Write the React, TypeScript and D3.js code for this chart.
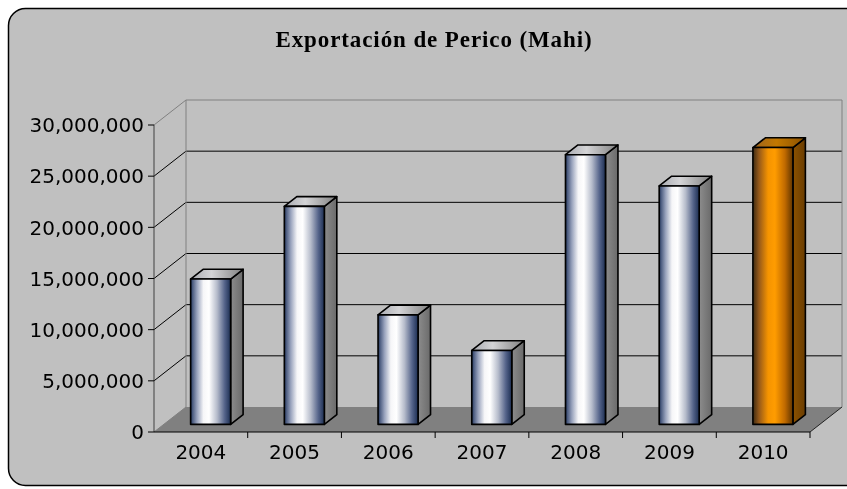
import React from 'react';
import * as d3 from 'd3';

const years = ['2004', '2005', '2006', '2007', '2008', '2009', '2010'];
const exports = [14200000, 21300000, 10700000, 7220000, 26350000, 23300000, 27050000];
const yTicks = [0, 5000000, 10000000, 15000000, 20000000, 25000000, 30000000];
const title = 'Exportación de Perico (Mahi)';

const W = 847;
const H = 489;
// plot box (front plane) and 3D depth offset
const left = 154;
const right = 810;
const bottom = 432;
const top = 125;
const depth = { dx: 32, dy: -25 };
const barFront = 0.305;
const barBack = 0.695;

export default function App() {
  const x = d3
    .scaleBand<string>()
    .domain(years)
    .range([left, right])
    .paddingInner(0.573)
    .paddingOuter(0.2865);

  const y = d3.scaleLinear().domain([0, 30000000]).range([bottom, top]);
  const fmt = d3.format(',');

  const f0 = { dx: depth.dx * barFront, dy: depth.dy * barFront };
  const dd = { dx: depth.dx * (barBack - barFront), dy: depth.dy * (barBack - barFront) };
  const bw = x.bandwidth();
  const step = x.step();

  const pts = (p: number[][]) => p.map(q => q.join(',')).join(' ');

  return (
    <svg
      width={W}
      height={H}
      style={{ position: 'fixed', left: 0, top: 0 }}
      fontFamily="'DejaVu Sans', Verdana, sans-serif"
    >
      <defs>
        <linearGradient id="silverFront" x1="0" x2="1" y1="0" y2="0">
          <stop offset="0%" stopColor="#1c2e52" />
          <stop offset="5%" stopColor="#4c5c80" />
          <stop offset="16%" stopColor="#98a2bc" />
          <stop offset="32%" stopColor="#f6f6f8" />
          <stop offset="46%" stopColor="#ffffff" />
          <stop offset="66%" stopColor="#b6bccb" />
          <stop offset="85%" stopColor="#55648a" />
          <stop offset="100%" stopColor="#1c2e52" />
        </linearGradient>
        <linearGradient id="silverSide" x1="0" x2="1" y1="0" y2="0">
          <stop offset="0%" stopColor="#8c8c8c" />
          <stop offset="100%" stopColor="#6a6a6a" />
        </linearGradient>
        <linearGradient id="silverTop" x1="0" x2="1" y1="0" y2="0">
          <stop offset="0%" stopColor="#a8aab0" />
          <stop offset="40%" stopColor="#d4d4d6" />
          <stop offset="100%" stopColor="#808080" />
        </linearGradient>
        <linearGradient id="orangeFront" x1="0" x2="1" y1="0" y2="0">
          <stop offset="0%" stopColor="#3c2a12" />
          <stop offset="15%" stopColor="#94581a" />
          <stop offset="38%" stopColor="#f59400" />
          <stop offset="55%" stopColor="#ff9c00" />
          <stop offset="80%" stopColor="#c06a00" />
          <stop offset="100%" stopColor="#5e3400" />
        </linearGradient>
        <linearGradient id="orangeSide" x1="0" x2="1" y1="0" y2="0">
          <stop offset="0%" stopColor="#8c5200" />
          <stop offset="100%" stopColor="#6a3c00" />
        </linearGradient>
        <linearGradient id="orangeTop" x1="0" x2="1" y1="0" y2="0">
          <stop offset="0%" stopColor="#9c6420" />
          <stop offset="45%" stopColor="#c27800" />
          <stop offset="100%" stopColor="#8a5000" />
        </linearGradient>
      </defs>

      {/* chart area */}
      <rect x={8.5} y={8.5} width={880} height={477} rx={17} ry={17} fill="#c0c0c0" stroke="#000" strokeWidth={1.5} />

      <text
        x={434}
        y={47}
        textAnchor="middle"
        fontFamily="'Liberation Serif', 'DejaVu Serif', serif"
        fontWeight="bold"
        fontSize={23}
        letterSpacing={0.9}
        fill="#000"
      >
        {title}
      </text>

      {/* floor */}
      <polygon
        points={pts([
          [left, bottom],
          [right, bottom],
          [right + depth.dx, bottom + depth.dy],
          [left + depth.dx, bottom + depth.dy],
        ])}
        fill="#808080"
      />

      {/* back wall gridlines + side-wall diagonals */}
      {yTicks.map((t, i) => {
        const last = i === yTicks.length - 1;
        const col = i === 0 || last ? '#808080' : '#000';
        return (
          <g key={t}>
            {i > 0 && (
              <line
                x1={left + depth.dx}
                x2={right + depth.dx}
                y1={y(t) + depth.dy}
                y2={y(t) + depth.dy}
                stroke={col}
                strokeWidth={1}
              />
            )}
            <line x1={left} x2={left + depth.dx} y1={y(t)} y2={y(t) + depth.dy} stroke={col} strokeWidth={1} />
          </g>
        );
      })}
      {/* back wall edges */}
      <line x1={left + depth.dx} x2={left + depth.dx} y1={top + depth.dy} y2={bottom + depth.dy} stroke="#808080" />
      <line x1={right + depth.dx} x2={right + depth.dx} y1={top + depth.dy} y2={bottom + depth.dy} stroke="#808080" />
      <line x1={right} x2={right + depth.dx} y1={bottom} y2={bottom + depth.dy} stroke="#222" />

      {/* y axis */}
      <line x1={left} x2={left} y1={top} y2={bottom} stroke="#404040" />
      {yTicks.map(t => (
        <g key={t}>
          <line x1={left - 6} x2={left} y1={y(t)} y2={y(t)} stroke="#000" />
          <text x={144} y={y(t)} dy="0.36em" textAnchor="end" fontSize={20} fill="#000">
            {fmt(t)}
          </text>
        </g>
      ))}

      {/* x axis */}
      <line x1={left} x2={right} y1={bottom} y2={bottom} stroke="#000" />
      {years.map((yr, i) => (
        <g key={yr}>
          <line
            x1={left + step * (i + 1)}
            x2={left + step * (i + 1)}
            y1={bottom}
            y2={bottom + 6}
            stroke="#000"
          />
          <text x={left + step * (i + 0.5)} y={459} textAnchor="middle" fontSize={20} fill="#000">
            {yr}
          </text>
        </g>
      ))}

      {/* bars */}
      {exports.map((v, i) => {
        const x0 = (x(years[i]) as number) + f0.dx;
        const x1 = x0 + bw;
        const yT = y(v) + f0.dy;
        const yB = y(0) + f0.dy;
        const hi = i === exports.length - 1;
        const kind = hi ? 'orange' : 'silver';
        return (
          <g key={years[i]} stroke="#000" strokeWidth={1.6} strokeLinejoin="round">
            <polygon
              points={pts([
                [x1, yB],
                [x1, yT],
                [x1 + dd.dx, yT + dd.dy],
                [x1 + dd.dx, yB + dd.dy],
              ])}
              fill={`url(#${kind}Side)`}
            />
            <polygon
              points={pts([
                [x0, yT],
                [x1, yT],
                [x1 + dd.dx, yT + dd.dy],
                [x0 + dd.dx, yT + dd.dy],
              ])}
              fill={`url(#${kind}Top)`}
            />
            <rect x={x0} y={yT} width={bw} height={yB - yT} fill={`url(#${kind}Front)`} />
          </g>
        );
      })}
    </svg>
  );
}
